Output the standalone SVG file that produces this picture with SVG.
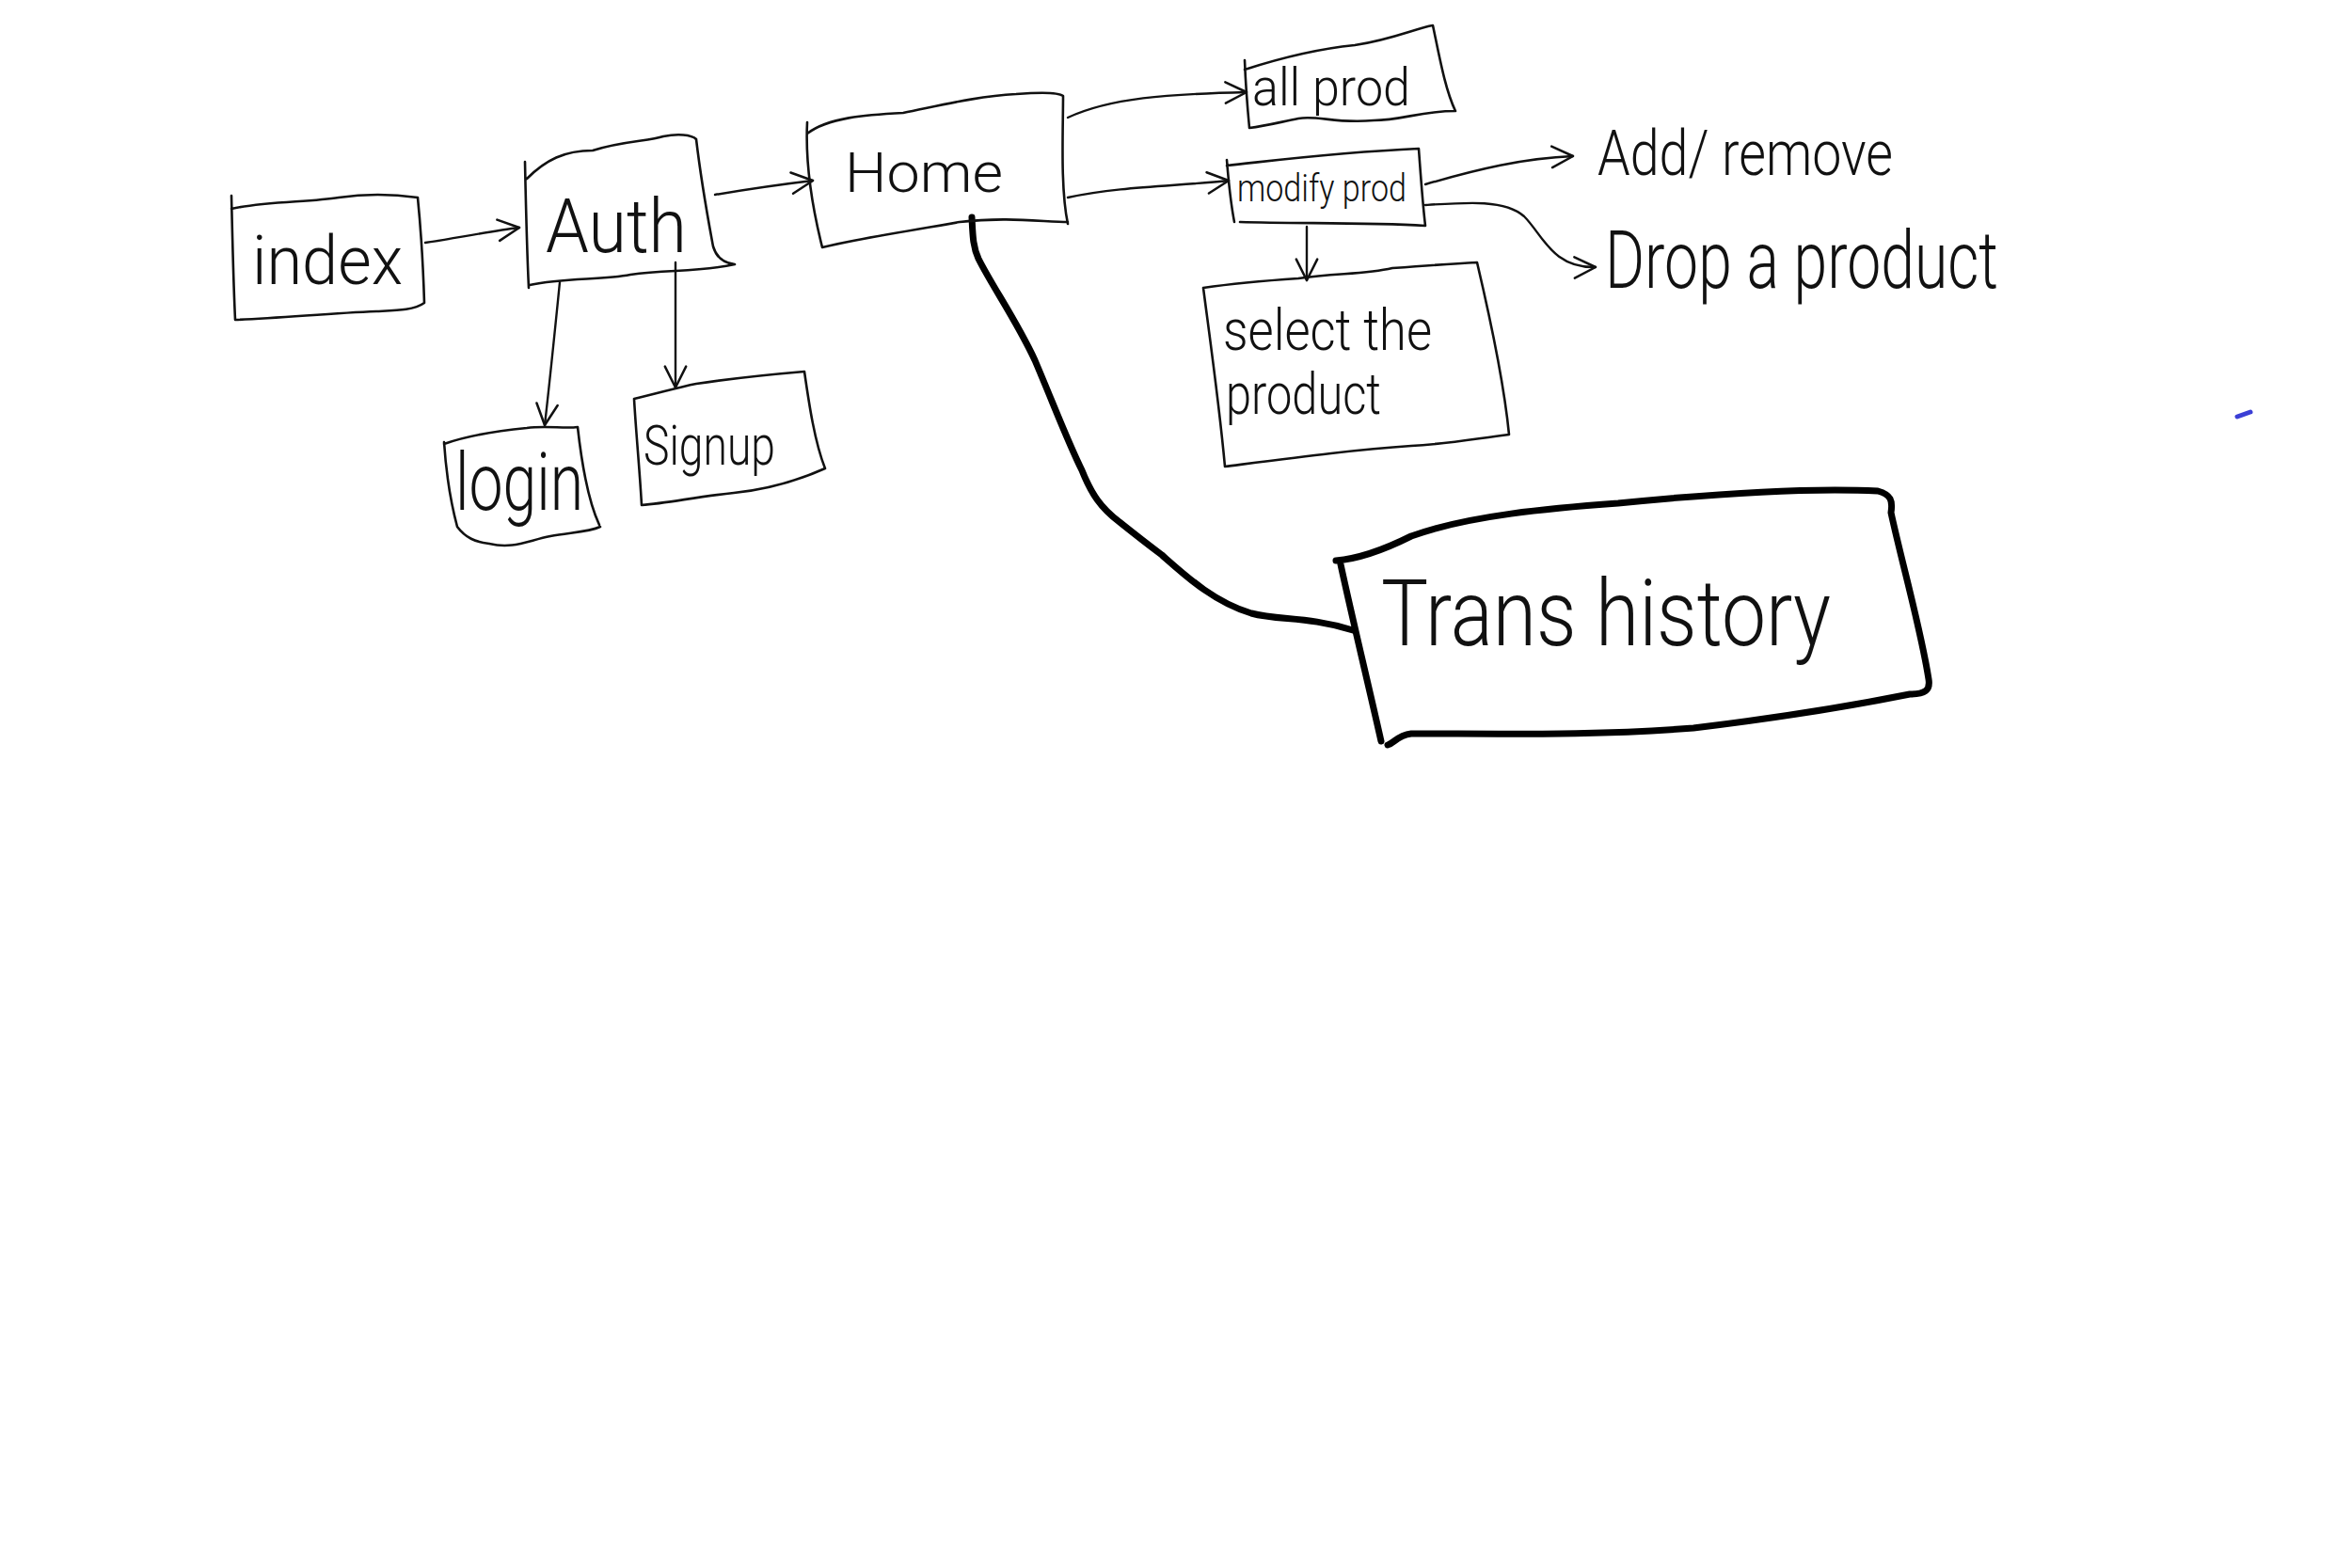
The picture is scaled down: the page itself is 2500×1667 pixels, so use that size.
<svg xmlns="http://www.w3.org/2000/svg" width="2500" height="1667" viewBox="0 0 2500 1667">
  <style>
    .box { fill: none; stroke: #111; stroke-width: 2.6; stroke-linecap: round; stroke-linejoin: round; }
    .heavy { fill: none; stroke: #000; stroke-width: 7; stroke-linecap: round; stroke-linejoin: round; }
    .wire { fill: none; stroke: #111; stroke-width: 2.4; stroke-linecap: round; stroke-linejoin: round; }
    .hand { font-family: Roboto, "Liberation Sans", sans-serif; font-weight: 300; fill: #111; }
  </style>
  <defs>
    <marker id="chev" viewBox="0 0 20 20" refX="18" refY="10" markerWidth="28" markerHeight="28" markerUnits="userSpaceOnUse" orient="auto">
      <path d="M2,2 L18,10 L2,18" fill="none" stroke="#111" stroke-width="1.8" stroke-linecap="round" stroke-linejoin="round"/>
    </marker>
  </defs>
  <rect width="2500" height="1667" fill="#fff"/>

  <!-- connectors -->
  <g id="connectors">
    <path class="wire" d="M452,258 C480,254 520,246 552,242" marker-end="url(#chev)"/>
    <path class="wire" d="M760,207 C790,202 830,196 864,192" marker-end="url(#chev)"/>
    <path class="wire" d="M595,300 C590,350 585,400 579,452" marker-end="url(#chev)"/>
    <path class="wire" d="M718,279 C718,320 718,370 718,412" marker-end="url(#chev)"/>
    <path class="wire" d="M1135,125 C1180,104 1240,100 1325,98" marker-end="url(#chev)"/>
    <path class="wire" d="M1135,210 C1190,198 1250,198 1306,192" marker-end="url(#chev)"/>
    <path class="wire" d="M1389,241 C1389,262 1389,280 1389,298" marker-end="url(#chev)"/>
    <path class="wire" d="M1515,196 C1570,180 1620,168 1672,166" marker-end="url(#chev)"/>
    <path class="wire" d="M1515,218 C1560,215 1600,212 1620,230 C1640,250 1650,285 1696,284" marker-end="url(#chev)"/>
    <path class="heavy" d="M1033,231 C1034,250 1034,262 1040,275 C1055,305 1080,340 1100,383 C1120,430 1135,470 1150,500 C1160,525 1170,540 1190,555 C1205,567 1215,575 1235,590 C1260,612 1290,640 1330,652 C1360,660 1390,655 1438,670"/>
  </g>

  <!-- index -->
  <g id="index">
    <path class="box" d="M246,208 C247,250 248,300 250,340 M246,222 C280,214 330,215 360,210 C400,204 430,208 444,210 C448,250 450,290 451,322 C440,330 420,330 400,331 C350,333 300,338 250,340"/>
    <text class="hand" x="268" y="302" font-size="72" textLength="160" lengthAdjust="spacingAndGlyphs">index</text>
  </g>

  <!-- Auth -->
  <g id="auth">
    <path class="box" d="M558,172 C559,220 560,265 562,306 M560,190 C580,170 600,160 630,160 C660,150 690,150 705,145 C720,142 735,143 740,148 C745,190 752,230 758,262 C762,275 770,280 781,281 M563,303 C600,295 640,298 670,292 C710,286 740,290 781,281"/>
    <text class="hand" x="580" y="268" font-size="80" textLength="150" lengthAdjust="spacingAndGlyphs">Auth</text>
  </g>

  <!-- Home -->
  <g id="home">
    <path class="box" d="M858,130 C856,170 862,215 874,263 M858,142 C880,125 920,122 960,120 C1000,112 1040,102 1080,100 C1105,98 1125,98 1130,102 C1130,140 1127,200 1135,238 M874,263 C920,252 970,245 1020,236 C1070,230 1110,236 1135,236"/>
    <text class="hand" x="898" y="204" font-size="60" fill="#333" textLength="168" lengthAdjust="spacingAndGlyphs">Home</text>
  </g>

  <!-- Login -->
  <g id="login">
    <path class="box" d="M472,472 C500,462 530,458 560,455 C580,452 600,456 614,454 C618,490 624,530 637,558 M472,470 C474,500 478,530 486,560 C495,572 505,576 520,578 C545,584 560,575 585,570 C605,566 625,566 638,560"/>
    <text class="hand" x="484" y="542" font-size="86" textLength="136" lengthAdjust="spacingAndGlyphs">login</text>
  </g>

  <!-- Signup -->
  <g id="signup">
    <path class="box" d="M674,424 C700,418 720,412 740,408 C780,402 820,398 855,395 C860,430 866,470 877,498 C850,510 820,520 780,524 C740,528 710,535 682,537 C680,500 676,460 674,424"/>
    <text class="hand" x="684" y="494" font-size="60" fill="#222" textLength="140" lengthAdjust="spacingAndGlyphs">Signup</text>
  </g>

  <!-- all prod -->
  <g id="all-prod">
    <path class="box" d="M1323,64 C1324,90 1326,115 1328,136 M1323,74 C1360,62 1400,52 1440,48 C1480,42 1505,30 1523,27 C1530,60 1536,95 1547,118 C1510,118 1490,128 1460,128 C1420,132 1400,122 1380,126 C1360,130 1345,134 1328,136"/>
    <text class="hand" x="1331" y="112" font-size="56" textLength="168" lengthAdjust="spacingAndGlyphs">all  prod</text>
  </g>

  <!-- modify prod -->
  <g id="modify-prod">
    <path class="box" d="M1304,176 C1360,170 1420,162 1508,158 C1510,185 1512,215 1515,240 M1304,170 C1306,195 1308,215 1312,236 M1318,236 C1380,238 1450,236 1515,240"/>
    <text class="hand" x="1315" y="214" font-size="40" textLength="180" lengthAdjust="spacingAndGlyphs">modify prod</text>
  </g>

  <!-- select the product -->
  <g id="select-product">
    <path class="box" d="M1279,306 C1320,300 1350,298 1380,296 C1420,290 1450,292 1480,285 C1520,282 1550,280 1570,279 C1582,330 1598,400 1604,462 C1570,466 1540,472 1500,474 C1440,478 1380,486 1302,496 C1296,430 1286,360 1279,306"/>
    <text class="hand" x="1300" y="372" font-size="62" textLength="222" lengthAdjust="spacingAndGlyphs">select the</text>
    <text class="hand" x="1303" y="440" font-size="62" textLength="165" lengthAdjust="spacingAndGlyphs">product</text>
  </g>

  <!-- Add/remove -->
  <g id="add-remove">
    <text class="hand" x="1698" y="186" font-size="66" textLength="314" lengthAdjust="spacingAndGlyphs">Add/ remove</text>
  </g>

  <!-- Drop a product -->
  <g id="drop-product">
    <text class="hand" x="1706" y="306" font-size="86" font-weight="400" textLength="418" lengthAdjust="spacingAndGlyphs">Drop a product</text>
  </g>

  <!-- Trans history -->
  <g id="trans-history">
    <path class="heavy" d="M1420,596 C1445,594 1470,585 1500,570 C1560,548 1650,540 1720,535 C1820,525 1920,518 1996,522 C2010,526 2012,532 2010,545 C2022,600 2042,670 2050,722 C2052,734 2046,738 2030,738 C1990,746 1900,762 1800,774 C1700,782 1600,780 1500,780 C1485,782 1482,790 1475,792 M1425,600 C1438,660 1455,730 1468,788"/>
    <text class="hand" x="1468" y="686" font-size="98" font-weight="500" textLength="478" lengthAdjust="spacingAndGlyphs">Trans history</text>
  </g>

  <!-- stray pen mark -->
  <path d="M2378,443 L2392,438" stroke="#3b3fd6" stroke-width="5" stroke-linecap="round"/>
</svg>
